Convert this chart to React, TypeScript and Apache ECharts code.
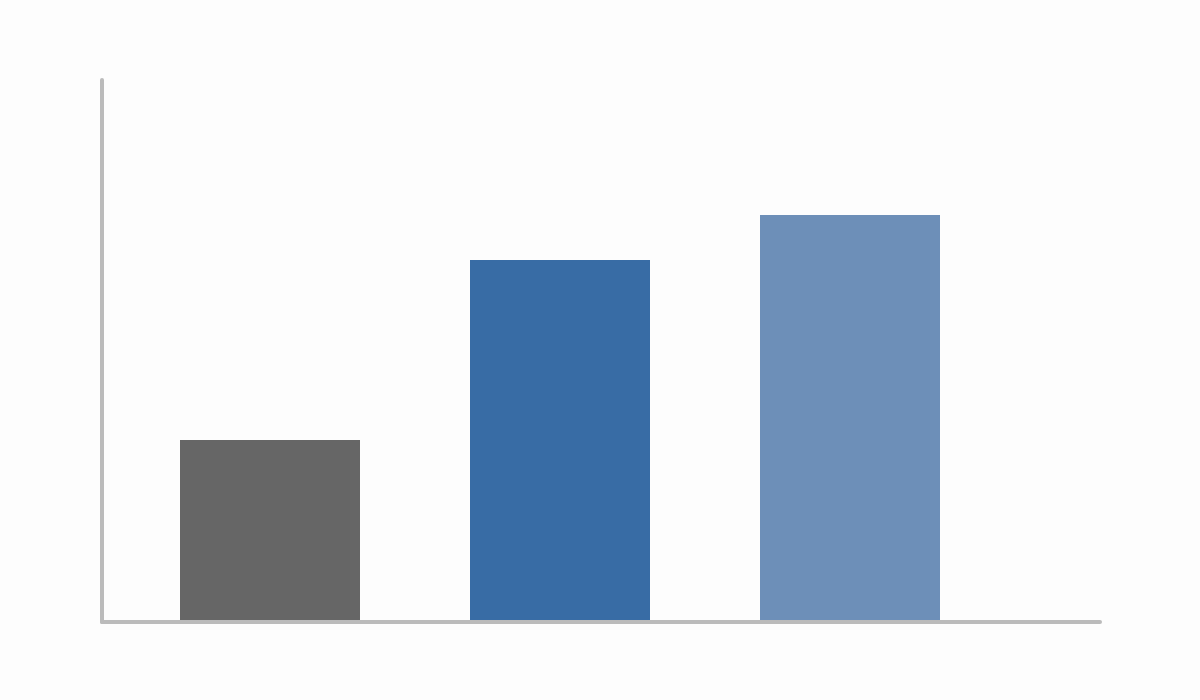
import React, { useEffect, useRef } from "react";
import * as echarts from "echarts";

const categories = ["A", "B", "C"];
const values = [40, 80, 90];
const barColors = ["#666666", "#386ca5", "#6d8fb8"];
const yMax = 120;

export default function App() {
  const ref = useRef<HTMLDivElement>(null);
  useEffect(() => {
    if (!ref.current) return;
    const chart = echarts.init(ref.current, null, { renderer: "svg" });
    const axisLine = { show: true, onZero: false, lineStyle: { color: "#bbbbbb", width: 4 } };
    chart.setOption({
      animation: false,
      backgroundColor: "#fdfdfd",
      grid: [
        { left: 102, right: 100, top: 80, bottom: 78 },
        { left: 125, right: 205, top: 80, bottom: 80 },
      ],
      xAxis: [
        {
          type: "value",
          gridIndex: 0,
          min: 0,
          max: 1,
          axisLine,
          axisTick: { show: false },
          axisLabel: { show: false },
          splitLine: { show: false },
        },
        {
          type: "category",
          gridIndex: 1,
          data: categories,
          axisLine: { show: false },
          axisTick: { show: false },
          axisLabel: { show: false },
        },
      ],
      yAxis: [
        {
          type: "value",
          gridIndex: 0,
          min: 0,
          max: 1,
          axisLine,
          axisTick: { show: false },
          axisLabel: { show: false },
          splitLine: { show: false },
        },
        {
          type: "value",
          gridIndex: 1,
          min: 0,
          max: yMax,
          axisLine: { show: false },
          axisTick: { show: false },
          axisLabel: { show: false },
          splitLine: { show: false },
        },
      ],
      series: [
        {
          type: "bar",
          xAxisIndex: 1,
          yAxisIndex: 1,
          barWidth: 180,
          data: values.map((v, i) => ({ value: v, itemStyle: { color: barColors[i] } })),
        },
      ],
    });
    return () => chart.dispose();
  }, []);
  return (
    <div
      ref={ref}
      style={{ position: "fixed", left: 0, top: 0, width: 1200, height: 700 }}
    />
  );
}
